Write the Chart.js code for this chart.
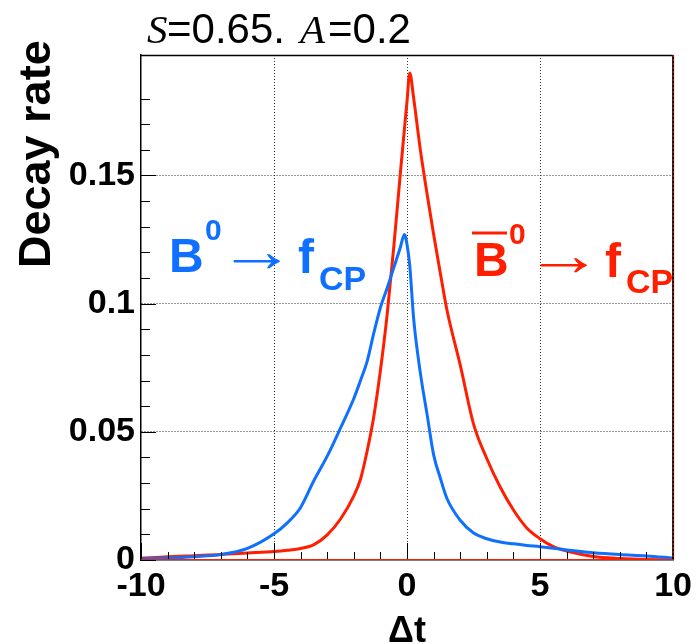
<!DOCTYPE html>
<html>
<head>
<meta charset="utf-8">
<script src="https://cdn.jsdelivr.net/npm/chart.js@4.4.1/dist/chart.umd.min.js"></script>
<style>
html, body { margin: 0; padding: 0; background: #fff; }
</style>
</head>
<body>
<canvas id="myChart" width="698" height="644"></canvas>
<script>
// values
const dt = [-10, -9, -8, -7, -6, -5, -4.5, -4, -3.5, -3, -2.5, -2, -1.75, -1.5, -1.25, -1, -0.75, -0.5, -0.25, -0.1, 0, 0.1, 0.25, 0.5, 0.75, 1, 1.25, 1.5, 2, 2.5, 3, 3.5, 4, 4.5, 5, 5.5, 6, 7, 8, 9, 10];
const rateB0 = [0.0005, 0.0008, 0.0013, 0.0021, 0.0045, 0.0102, 0.0145, 0.0205, 0.031, 0.0405, 0.0515, 0.063, 0.07, 0.0775, 0.0885, 0.0985, 0.106, 0.114, 0.122, 0.127, 0.123, 0.115, 0.094, 0.073, 0.057, 0.041, 0.032, 0.024, 0.0155, 0.0105, 0.0083, 0.007, 0.0063, 0.0057, 0.0052, 0.0046, 0.0039, 0.0028, 0.0021, 0.0016, 0.0008];
const rateB0bar = [0.0007, 0.0013, 0.0017, 0.0021, 0.0027, 0.0033, 0.0038, 0.0045, 0.006, 0.0098, 0.016, 0.025, 0.0315, 0.0425, 0.056, 0.074, 0.0955, 0.122, 0.151, 0.168, 0.179, 0.19, 0.18, 0.16, 0.143, 0.127, 0.112, 0.0975, 0.076, 0.053, 0.0395, 0.0285, 0.0195, 0.0125, 0.0083, 0.0052, 0.0035, 0.0014, 0.0006, 0.0002, 0.0001];
const xTickLabels = [-10, -5, 0, 5, 10];
const yTickLabels = [0, 0.05, 0.1, 0.15];

const BLUE = "#0f70ff";
const RED = "#ff1e00";

const pts = (ys) => dt.map((x, i) => ({ x: x, y: ys[i] }));
const isMajorX = (v) => xTickLabels.includes(v);
const isMajorY = (v) => yTickLabels.some((t) => Math.abs(t - v) < 1e-9);

//inward ticks, frame, title and labels
const decorations = {
  id: "decorations",
  afterDraw(chart) {
    const { ctx, chartArea: a, scales } = chart;
    const x = scales.x, y = scales.y;
    ctx.save();
    ctx.strokeStyle = "#000";
    ctx.lineWidth = 1;
    x.ticks.forEach((t) => {
      const px = Math.round(x.getPixelForValue(t.value)) + 0.5;
      const len = isMajorX(t.value) ? 17 : 8;
      ctx.beginPath();
      ctx.moveTo(px, a.bottom);
      ctx.lineTo(px, a.bottom - len);
      ctx.stroke();
    });
    y.ticks.forEach((t) => {
      const r = t.value * 100;
      if (Math.abs(r - Math.round(r)) > 1e-6) return;
      const py = Math.round(y.getPixelForValue(t.value)) + 0.5;
      const len = isMajorY(t.value) ? 15 : 9;
      ctx.beginPath();
      ctx.moveTo(a.left, py);
      ctx.lineTo(a.left + len, py);
      ctx.stroke();
    });
    // frame top and right
    ctx.lineWidth = 1.5;
    ctx.beginPath();
    ctx.moveTo(a.left, a.top + 0.5);
    ctx.lineTo(a.right, a.top + 0.5);
    ctx.stroke();
    ctx.lineWidth = 2;
    ctx.beginPath();
    ctx.moveTo(a.right, a.top);
    ctx.lineTo(a.right, a.bottom);
    ctx.stroke();
    ctx.strokeStyle = RED;
    ctx.lineWidth = 1;
    ctx.setLineDash([2, 2]);
    ctx.beginPath();
    ctx.moveTo(a.right, a.top);
    ctx.lineTo(a.right, a.bottom);
    ctx.stroke();
    ctx.setLineDash([]);
    ctx.beginPath();
    ctx.moveTo(a.left, a.bottom - 0.5);
    ctx.lineTo(a.right, a.bottom - 0.5);
    ctx.stroke();

    // title
    ctx.textBaseline = "alphabetic";
    ctx.textAlign = "left";
    ctx.fillStyle = "#000";
    const serifIt = 'italic 41px "Liberation Serif"';
    const sans = '42px "Liberation Sans"';
    ctx.font = serifIt; ctx.fillText("S", 147, 43);
    ctx.font = sans; ctx.fillText("=0.65.", 167, 43);
    ctx.font = serifIt; ctx.fillText("A", 300, 43);
    ctx.font = sans; ctx.fillText("=0.2", 328, 43);

    // y axis title
    ctx.save();
    ctx.translate(50, 268);
    ctx.rotate(-Math.PI / 2);
    ctx.font = 'bold 45px "Liberation Sans"';
    ctx.fillText("Decay rate", 0, 0);
    ctx.restore();

    // labels for the two curves
    const big = 'bold 48px "Liberation Sans"';
    const sup = 'bold 30px "Liberation Sans"';
    const sub = 'bold 34px "Liberation Sans"';
    const arrow = '60px "Liberation Sans", "DejaVu Sans"';
    const label = (color, bx, base, sx, ax, fx, cx, cBase, bar) => {
      ctx.fillStyle = color;
      ctx.font = big; ctx.fillText("B", bx, base);
      ctx.font = sup; ctx.fillText("0", sx, base - 32);
      ctx.save();
      ctx.font = arrow;
      ctx.textBaseline = "middle";
      ctx.translate(ax, base - 18);
      ctx.scale(1.3, 1);
      ctx.fillText("\u2192", 0, 0);
      ctx.restore();
      ctx.font = big; ctx.fillText("f", fx, base + 1);
      ctx.font = sub; ctx.fillText("CP", cx, cBase);
      if (bar) {
        ctx.strokeStyle = color;
        ctx.lineWidth = 3;
        ctx.beginPath();
        ctx.moveTo(bx - 2, base - 43);
        ctx.lineTo(bx + 33, base - 43);
        ctx.stroke();
      }
    };
    label(BLUE, 169, 272, 205, 218, 298, 319, 290, false);
    label(RED, 474, 276, 509, 525, 605, 626, 293, true);
    ctx.restore();
  },
};

const ctx = document.getElementById("myChart");
const myChart = new Chart(ctx, {
  type: "line",
  data: {
    datasets: [
      {
        label: "B0 -> fCP",
        data: pts(rateB0),
        borderColor: BLUE,
        borderWidth: 3,
        pointRadius: 0,
        cubicInterpolationMode: "monotone",
        fill: false,
      },
      {
        label: "B0bar -> fCP",
        data: pts(rateB0bar),
        borderColor: RED,
        borderWidth: 3,
        pointRadius: 0,
        cubicInterpolationMode: "monotone",
        fill: false,
      },
    ],
  },
  options: {
    responsive: false,
    animation: false,
    layout: { padding: { left: 0, top: 55, right: 21, bottom: 0 } },
    plugins: { legend: { display: false }, tooltip: { enabled: false } },
    scales: {
      x: {
        type: "linear",
        min: -10,
        max: 10,
        afterFit: (s) => { s.height = 84; },
        border: { color: "#000", width: 1.5, dash: [1, 2] },
        grid: {
          drawTicks: false,
          color: (c) => (c.tick && [-5, 0, 5].includes(c.tick.value) ? "#333" : "rgba(0,0,0,0)"),
          lineWidth: 1,
        },
        ticks: {
          stepSize: 1,
          autoSkip: false,
          maxRotation: 0,
          padding: 6,
          color: "#000",
          font: { family: "Liberation Sans", weight: "bold", size: 34 },
          callback: (v) => (isMajorX(v) ? String(v) : ""),
        },
        title: {
          display: true,
          text: "\u0394t",
          color: "#000",
          font: { family: "Liberation Sans", weight: "bold", size: 36, lineHeight: 1 },
          padding: { top: 0, bottom: -6 },
        },
      },
      y: {
        min: 0,
        max: 0.197,
        afterFit: (s) => { s.width = 141; },
        border: { color: "#000", width: 1.5, dash: [1, 2] },
        grid: {
          drawTicks: false,
          color: (c) => (c.tick && c.tick.value > 0.01 && isMajorY(c.tick.value) ? "#333" : "rgba(0,0,0,0)"),
          lineWidth: 1,
        },
        ticks: {
          stepSize: 0.01,
          autoSkip: false,
          padding: 6,
          color: "#000",
          font: { family: "Liberation Sans", weight: "bold", size: 34 },
          callback: (v) => (isMajorY(v) ? String(Math.round(v * 100) / 100) : ""),
        },
      },
    },
  },
  plugins: [decorations],
});
</script>
</body>
</html>
